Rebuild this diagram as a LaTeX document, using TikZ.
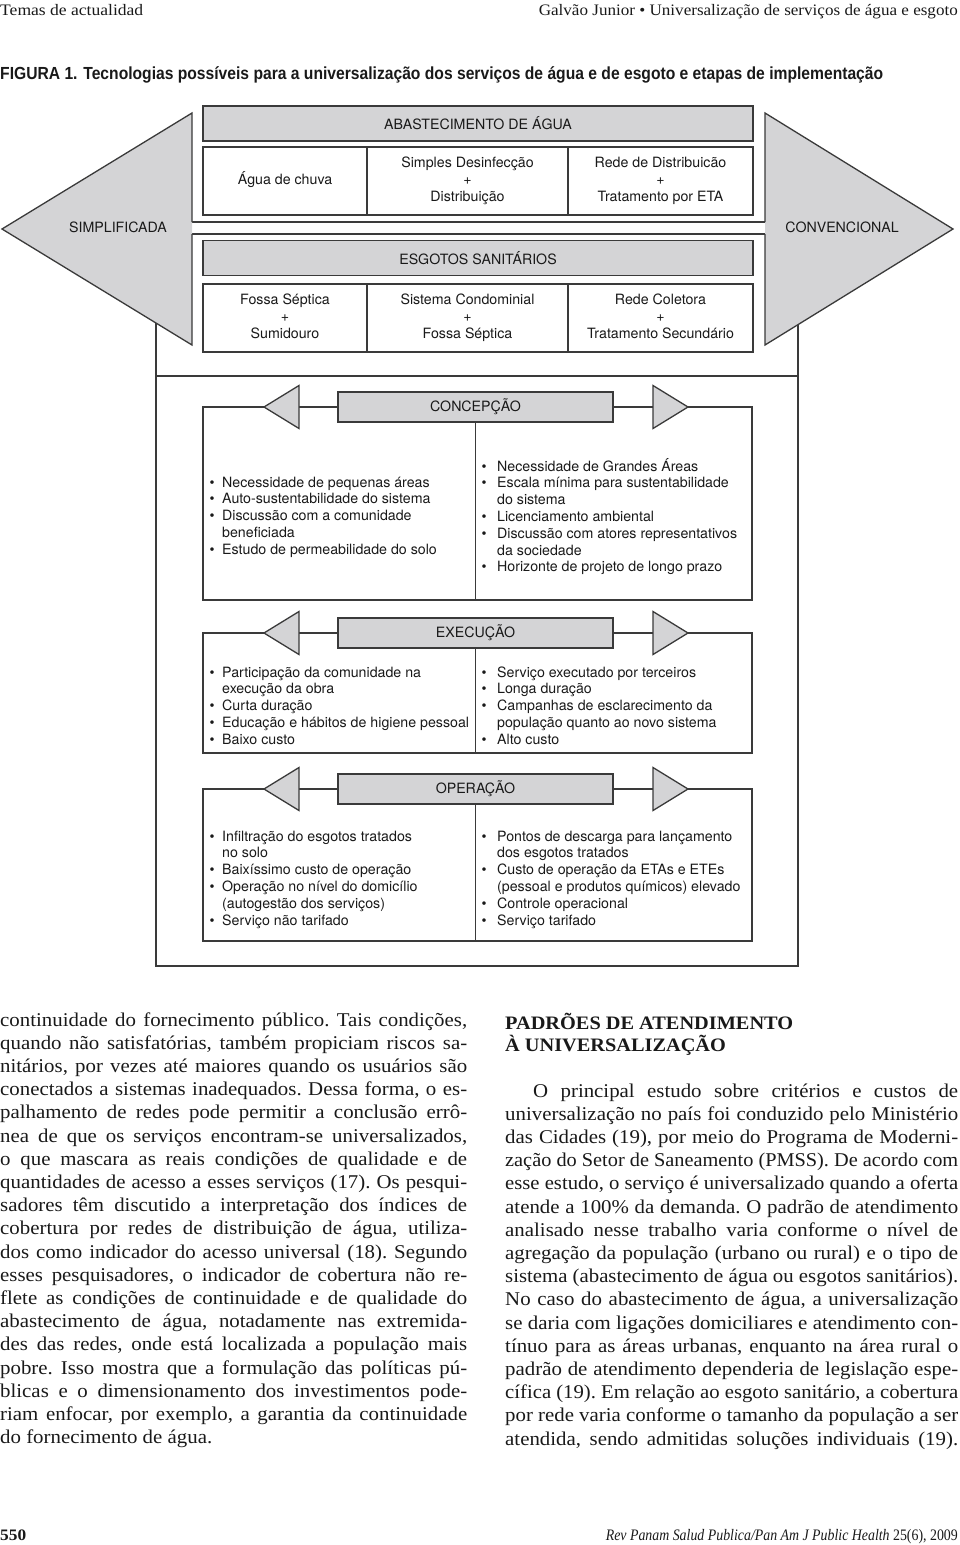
\documentclass[tikz,border=0pt]{standalone}
\usepackage{fontspec}
\usepackage{graphicx}
\setmainfont{Liberation Serif}
\newfontfamily\figfont{TeX Gyre Heros}
\newfontfamily\titlefont{Liberation Sans}
\newfontfamily\bodyfont[FakeStretch=1.07]{Liberation Serif}
\newfontfamily\runfont{Liberation Serif}
\definecolor{gf}{RGB}{212,212,214}
\definecolor{lc}{RGB}{58,58,58}
\definecolor{tc}{RGB}{25,25,25}
\newcommand\figtxt{\figfont\fontsize{14.2}{16.8}\selectfont}
\newcommand\bodytxt{\bodyfont\fontsize{19.5}{23.2}\selectfont\frenchspacing}
\newcommand\smtxt{\runfont\fontsize{16}{19}\selectfont}
\newsavebox\jlbox
\newcommand\jl[1]{\par\noindent\sbox\jlbox{#1}\ifdim\wd\jlbox>\linewidth\resizebox{\linewidth}{\height}{\usebox\jlbox}\else\makebox[\linewidth][s]{#1}\fi\par}
\newcommand\jn[1]{\par\noindent #1\par}
\newcommand\bi[2]{\par\noindent\hangindent=#1pt\hangafter=1\makebox[#1pt][l]{\textbullet}#2\par}
\newcommand\blk[1]{\begin{minipage}[t]{300pt}\raggedright\figtxt #1\end{minipage}}
\tikzset{
  ln/.style={draw=lc, line width=1.3pt},
  hdr/.style={ln, fill=gf, inner sep=0pt, minimum height=35pt, minimum width=550pt, font=\figtxt, text=tc},
  cell/.style={ln, fill=white, inner sep=0pt, minimum height=68pt, align=center, font=\figtxt, text=tc},
  side/.style={inner sep=0pt, font=\figtxt, text=tc},
  stg/.style={ln, fill=gf, inner sep=0pt, minimum height=30pt, minimum width=275pt, font=\figtxt, text=tc},
  tri/.style={ln, fill=gf, line join=miter},
  blist/.style={anchor=base west, inner sep=0pt, text=tc},
  body/.style={anchor=base west, inner sep=0pt, text=tc}
}
\begin{document}
\begin{tikzpicture}[x=1pt,y=-1pt]
\useasboundingbox (0,0) rectangle (960,1545);

% ---- running head and title
\node[body, font=\smtxt] (hl) at (0,15) {\resizebox{143pt}{\height}{Temas de actualidad}};
\node[anchor=base east, inner sep=0pt, font=\smtxt, text=tc] (hr) at (958,15) {\resizebox{419pt}{\height}{Galvão Junior • Universalização de serviços de água e esgoto}};
\node[body] (title) at (0,79) {\resizebox{883pt}{\height}{\titlefont\bfseries\fontsize{17.5}{20}\selectfont FIGURA 1. Tecnologias possíveis para a universalização dos serviços de água e de esgoto e etapas de implementação}};

% ---- outer frame
\coordinate (fnw) at (156,300);
\coordinate (fsw) at (156,966);
\coordinate (fse) at (798,966);
\coordinate (fne) at (798,300);
\draw[ln] (fnw) -- (fsw) -- (fse) -- (fne);
\draw[ln] (156,376) -- (798,376);

% ---- band between the two groups
\coordinate (bl1) at (192,222); \coordinate (br1) at (765,222);
\coordinate (bl2) at (192,234); \coordinate (br2) at (765,234);
\draw[ln] (bl1) -- (br1);
\draw[ln] (bl2) -- (br2);

% ---- big arrows
\coordinate (stop) at (192,113); \coordinate (stip) at (2,229); \coordinate (sbot) at (192,345);
\coordinate (ctop) at (765,113); \coordinate (ctip) at (953,229); \coordinate (cbot) at (765,345);
\fill[gf] (stop) -- (stip) -- (sbot) -- cycle;
\draw[ln, line join=miter] (bl1) -- (stop) -- (stip) -- (sbot) -- (bl2);
\fill[gf] (ctop) -- (ctip) -- (cbot) -- cycle;
\draw[ln, line join=miter] (br1) -- (ctop) -- (ctip) -- (cbot) -- (br2);
\node[side] (simp) at (118,227) {SIMPLIFICADA};
\node[side] (conv) at (842,227) {CONVENCIONAL};

% ---- water supply
\node[hdr] (abast) at (478,123.5) {ABASTECIMENTO DE ÁGUA};
\node[cell, minimum width=164pt] (a1) at (285,181) {\strut Água de chuva\strut};
\node[cell, minimum width=201pt] (a2) at (467.5,181) {\strut Simples Desinfecção\\+\\Distribuição\strut};
\node[cell, minimum width=185pt] (a3) at (660.5,181) {\strut Rede de Distribuicão\\+\\Tratamento por ETA\strut};

% ---- sewage
\node[hdr] (esgot) at (478,258) {ESGOTOS SANITÁRIOS};
\node[cell, minimum width=164pt] (e1) at (285,318) {\strut Fossa Séptica\\+\\Sumidouro\strut};
\node[cell, minimum width=201pt] (e2) at (467.5,318) {\strut Sistema Condominial\\+\\Fossa Séptica\strut};
\node[cell, minimum width=185pt] (e3) at (660.5,318) {\strut Rede Coletora\\+\\Tratamento Secundário\strut};

% ---- stages
\foreach \yc/\yb/\lab/\nm in {407/600/CONCEPÇÃO/conc, 633/753/EXECUÇÃO/exec, 789/941/OPERAÇÃO/oper}{
  \node[stg] (\nm) at (475.5,\yc) {\lab};
  \coordinate (\nm-lt) at (264,\yc);
  \coordinate (\nm-lb) at (299,\yc);
  \coordinate (\nm-rb) at (653,\yc);
  \coordinate (\nm-rt) at (688,\yc);
  \coordinate (\nm-sw) at (203,\yb);
  \coordinate (\nm-se) at (752,\yb);
  \draw[ln, line join=miter] (\nm-lt) -- (203,\yc) -- (\nm-sw) -- (\nm-se) -- (752,\yc) -- (\nm-rt);
  \draw[ln] (\nm-lb) -- (\nm.west);
  \draw[ln] (\nm.east) -- (\nm-rb);
  \draw[tri] (299,\yc-21.5) -- (\nm-lt) -- (299,\yc+21.5) -- cycle;
  \draw[tri] (653,\yc-21.5) -- (\nm-rt) -- (653,\yc+21.5) -- cycle;
  \draw[ln] (\nm.south) -- (\nm.south |- \nm-sw);
}

\node[blist] (concL) at (209.5,487) {\blk{%
\bi{12.5}{Necessidade de pequenas áreas}%
\bi{12.5}{Auto-sustentabilidade do sistema}%
\bi{12.5}{Discussão com a comunidade\newline beneficiada}%
\bi{12.5}{Estudo de permeabilidade do solo}}};
\node[blist] (concR) at (481.5,471) {\blk{%
\bi{15.5}{Necessidade de Grandes Áreas}%
\bi{15.5}{Escala mínima para sustentabilidade\newline do sistema}%
\bi{15.5}{Licenciamento ambiental}%
\bi{15.5}{Discussão com atores representativos\newline da sociedade}%
\bi{15.5}{Horizonte de projeto de longo prazo}}};

\node[blist] (execL) at (209.5,677) {\blk{%
\bi{12.5}{Participação da comunidade na\newline execução da obra}%
\bi{12.5}{Curta duração}%
\bi{12.5}{Educação e hábitos de higiene pessoal}%
\bi{12.5}{Baixo custo}}};
\node[blist] (execR) at (481.5,677) {\blk{%
\bi{15.5}{Serviço executado por terceiros}%
\bi{15.5}{Longa duração}%
\bi{15.5}{Campanhas de esclarecimento da\newline população quanto ao novo sistema}%
\bi{15.5}{Alto custo}}};

\node[blist] (operL) at (209.5,841) {\blk{%
\bi{12.5}{Infiltração do esgotos tratados\newline no solo}%
\bi{12.5}{Baixíssimo custo de operação}%
\bi{12.5}{Operação no nível do domicílio\newline (autogestão dos serviços)}%
\bi{12.5}{Serviço não tarifado}}};
\node[blist] (operR) at (481.5,841) {\blk{%
\bi{15.5}{Pontos de descarga para lançamento\newline dos esgotos tratados}%
\bi{15.5}{Custo de operação da ETAs e ETEs\newline (pessoal e produtos químicos) elevado}%
\bi{15.5}{Controle operacional}%
\bi{15.5}{Serviço tarifado}}};

% ---- body text, left column
\node[body] (colL) at (0,1026) {\begin{minipage}[t]{467pt}\bodytxt
\jl{continuidade do fornecimento público. Tais condições,}
\jl{quando não satisfatórias, também propiciam riscos sa-}
\jl{nitários, por vezes até maiores quando os usuários são}
\jl{conectados a sistemas inadequados. Dessa forma, o es-}
\jl{palhamento de redes pode permitir a conclusão errô-}
\jl{nea de que os serviços encontram-se universalizados,}
\jl{o que mascara as reais condições de qualidade e de}
\jl{quantidades de acesso a esses serviços (17). Os pesqui-}
\jl{sadores têm discutido a interpretação dos índices de}
\jl{cobertura por redes de distribuição de água, utiliza-}
\jl{dos como indicador do acesso universal (18). Segundo}
\jl{esses pesquisadores, o indicador de cobertura não re-}
\jl{flete as condições de continuidade e de qualidade do}
\jl{abastecimento de água, notadamente nas extremida-}
\jl{des das redes, onde está localizada a população mais}
\jl{pobre. Isso mostra que a formulação das políticas pú-}
\jl{blicas e o dimensionamento dos investimentos pode-}
\jl{riam enfocar, por exemplo, a garantia da continuidade}
\jn{do fornecimento de água.}
\end{minipage}};

% ---- body text, right column
\node[body, font=\bodyfont\bfseries\fontsize{19}{22}\selectfont] (h1) at (505,1029) {PADRÕES DE ATENDIMENTO};
\node[body, font=\bodyfont\bfseries\fontsize{19}{22}\selectfont] (h2) at (505,1051) {À UNIVERSALIZAÇÃO};
\node[body] (colR) at (505,1097) {\begin{minipage}[t]{453pt}\bodytxt
\jl{\hspace*{28pt}O principal estudo sobre critérios e custos de}
\jl{universalização no país foi conduzido pelo Ministério}
\jl{das Cidades (19), por meio do Programa de Moderni-}
\jl{zação do Setor de Saneamento (PMSS). De acordo com}
\jl{esse estudo, o serviço é universalizado quando a oferta}
\jl{atende a 100\% da demanda. O padrão de atendimento}
\jl{analisado nesse trabalho varia conforme o nível de}
\jl{agregação da população (urbano ou rural) e o tipo de}
\jl{sistema (abastecimento de água ou esgotos sanitários).}
\jl{No caso do abastecimento de água, a universalização}
\jl{se daria com ligações domiciliares e atendimento con-}
\jl{tínuo para as áreas urbanas, enquanto na área rural o}
\jl{padrão de atendimento dependeria de legislação espe-}
\jl{cífica (19). Em relação ao esgoto sanitário, a cobertura}
\jl{por rede varia conforme o tamanho da população a ser}
\jl{atendida, sendo admitidas soluções individuais (19).}
\end{minipage}};

% ---- footer
\node[body, font=\smtxt\bfseries] (pg) at (0,1540) {\resizebox{26pt}{\height}{550}};
\node[anchor=base east, inner sep=0pt, font=\smtxt, text=tc] (jr) at (958,1540) {\resizebox{352pt}{\height}{\textit{Rev Panam Salud Publica/Pan Am J Public Health} 25(6), 2009}};
\end{tikzpicture}
\end{document}
